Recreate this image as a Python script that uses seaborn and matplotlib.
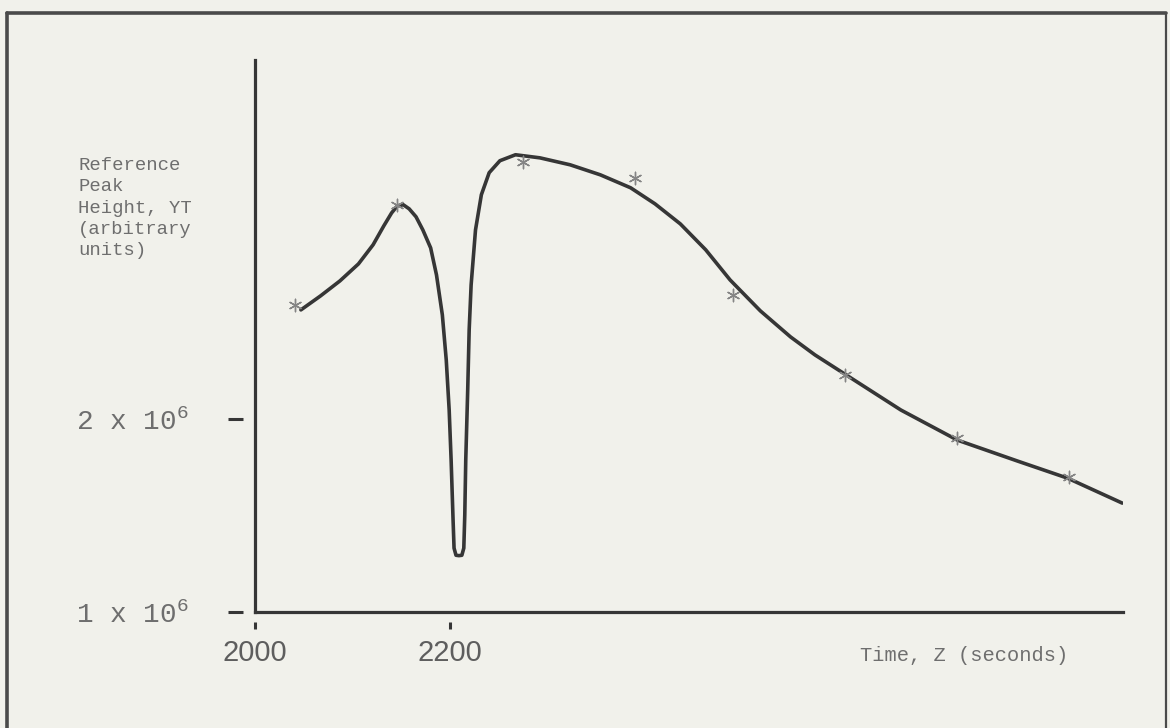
"""
Reference peak height YT against time Z, redrawn from a typewritten figure.
"""

import matplotlib
matplotlib.use("Agg")
import matplotlib.pyplot as plt
import pandas as pd
import seaborn as sns
from matplotlib.lines import Line2D
from matplotlib.ticker import FuncFormatter

# Smooth curve (time in s, height in units of 1e6)
curve_time = [2047, 2067, 2087, 2106, 2121, 2132, 2140, 2146, 2152, 2158,
              2165, 2172, 2180, 2186, 2192, 2196, 2199, 2201, 2203, 2204,
              2206, 2209, 2212, 2214, 2215, 2216, 2218, 2219.5, 2221.5, 2226,
              2232, 2240, 2251, 2267, 2292, 2323, 2354, 2385, 2410, 2436,
              2462, 2487, 2518, 2549, 2574, 2603, 2662, 2720, 2782, 2833,
              2889]
curve_height = [2.565, 2.637, 2.715, 2.803, 2.902, 3.000, 3.067, 3.104, 3.109, 3.088,
                3.047, 2.979, 2.886, 2.746, 2.539, 2.306, 2.047, 1.788, 1.477, 1.332,
                1.295, 1.293, 1.295, 1.332, 1.503, 1.788, 2.150, 2.461, 2.694, 2.979,
                3.161, 3.275, 3.337, 3.368, 3.352, 3.316, 3.264, 3.197, 3.114, 3.010,
                2.876, 2.720, 2.560, 2.425, 2.332, 2.238, 2.047, 1.891, 1.782, 1.694,
                1.565]

# Measured points (asterisks)
point_time = [2041, 2146, 2275, 2390, 2490, 2605, 2720, 2834]
point_height = [2.59, 3.11, 3.33, 3.25, 2.64, 2.23, 1.90, 1.70]

xtick_vals = [2000, 2200]
ytick_vals = [1, 2]

PAPER = "#f1f1eb"
INK = "#363636"
TYPE = "#6e6e6e"
MONO = ["Liberation Mono", "DejaVu Sans Mono"]

sns.set_theme(style="white")
plt.rcParams["font.family"] = MONO
plt.rcParams["mathtext.fontset"] = "custom"
plt.rcParams["mathtext.rm"] = "Liberation Mono"
plt.rcParams["mathtext.default"] = "regular"

curve = pd.DataFrame({"time": curve_time, "height": curve_height})
points = pd.DataFrame({"time": point_time, "height": point_height})

fig = plt.figure(figsize=(11.7, 7.28), dpi=100, facecolor=PAPER)
ax = fig.add_axes([0.218, 0.159, 0.742, 0.759])
ax.set_facecolor(PAPER)

sns.lineplot(data=curve, x="time", y="height", ax=ax, estimator=None,
             color=INK, linewidth=2.6)
sns.scatterplot(data=points, x="time", y="height", ax=ax, marker=(6, 2, 0),
                s=80, color="#858585", linewidth=1.0, zorder=3)

ax.set_xlim(2000, 2890)
ax.set_ylim(1.0, 3.86)

# only the left and bottom axes, drawn heavy like ink
sns.despine(ax=ax)
for side in ["left", "bottom"]:
    ax.spines[side].set_color(INK)
    ax.spines[side].set_linewidth(2.3)

ax.set_xticks(xtick_vals)
ax.set_yticks(ytick_vals)
ax.xaxis.set_major_formatter(FuncFormatter(lambda v, p: f"{v:.0f}"))
ax.yaxis.set_major_formatter(FuncFormatter(lambda v, p: f"{v:.0f} x 10$^6$"))
# real tick marks are hidden; they only keep the label offset
ax.tick_params(axis="y", length=19.5, width=0, pad=28, labelsize=20,
               labelcolor=TYPE)
ax.tick_params(axis="x", length=12, width=0, pad=7, labelsize=21,
               labelcolor="#5e5e5e")
for lab in ax.get_xticklabels():
    lab.set_fontfamily(["Liberation Sans", "DejaVu Sans"])

# tick marks standing off from the axis line, as typed on the original
w_px = 0.742 * 1170
h_px = 0.759 * 728
for v in ytick_vals:
    ax.add_line(Line2D([-27 / w_px, -12 / w_px], [v, v],
                       transform=ax.get_yaxis_transform(), clip_on=False,
                       color=INK, linewidth=2.2, solid_capstyle="butt"))
for v in xtick_vals:
    ax.add_line(Line2D([v, v], [-10 / h_px, -17 / h_px],
                       transform=ax.get_xaxis_transform(), clip_on=False,
                       color=INK, linewidth=2.2, solid_capstyle="butt"))

ax.set_xlabel("Time, Z (seconds)", fontsize=14.7, color=TYPE)
ax.xaxis.set_label_coords(0.817, -0.078)
ax.xaxis.label.set_va("center")
ax.set_ylabel("")

fig.text(78 / 1170, 1 - 157 / 728,
         "Reference\nPeak\nHeight, YT\n(arbitrary\nunits)",
         ha="left", va="top", fontsize=13.6, color=TYPE, linespacing=1.33)

# page border around the figure
for xs, ys, lw in [([0.006, 0.006], [0.0, 0.982], 2.6),
                   ([0.006, 0.997], [0.982, 0.982], 2.6),
                   ([0.997, 0.997], [0.0, 0.982], 1.6)]:
    fig.add_artist(Line2D(xs, ys, transform=fig.transFigure,
                          color="#4a4a4a", linewidth=lw))

fig.savefig("out.png", dpi=100, facecolor=PAPER)
